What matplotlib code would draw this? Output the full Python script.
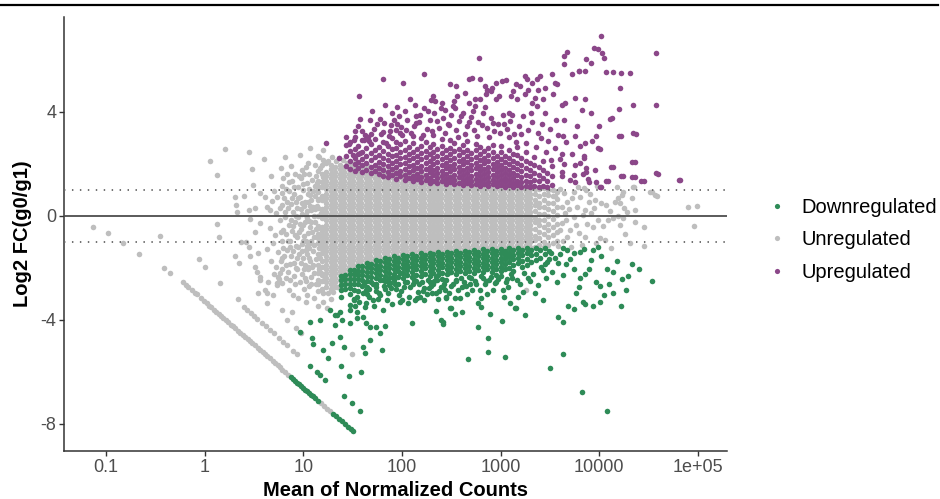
import numpy as np
import matplotlib
matplotlib.use("Agg")
import matplotlib.pyplot as plt
from matplotlib.lines import Line2D
from matplotlib.ticker import NullLocator

plt.rcParams['font.family'] = ['Liberation Sans', 'DejaVu Sans']

# ---------------- data: (log10 mean normalized count, log2 fold change) ----------------
categories = ["Downregulated", "Unregulated", "Upregulated"]
colors = {"Downregulated": "#2E8B57", "Unregulated": "#BEBEBE", "Upregulated": "#8B4789"}

x_ticks = [0.1, 1, 10, 100, 1000, 10000, 100000]
x_tick_labels = ["0.1", "1", "10", "100", "1000", "10000", "1e+05"]
y_ticks = [-8, -4, 0, 4]
y_tick_labels = ["-8", "-4", "0", "4"]

gray_sparse = [
    (-1.13, -0.42), (-0.98, -0.66), (-0.83, -1.04), (-0.66, -1.47), (-0.45, -0.77), (-0.41, -2.01),
    (-0.35, -2.18), (-0.06, -1.67), (0.0, -1.95), (0.13, -0.31), (0.15, -0.81), (0.16, -2.59),
    (-0.22, -2.56), (-0.19, -2.66), (-0.17, -2.73), (-0.13, -2.86), (-0.10, -2.96), (-0.08, -3.02),
    (-0.04, -3.16), (-0.01, -3.26), (0.02, -3.36), (0.05, -3.46), (0.07, -3.52), (0.10, -3.62),
    (0.12, -3.69), (0.15, -3.79), (0.17, -3.85), (0.19, -3.92), (0.22, -4.02), (0.24, -4.09),
    (0.27, -4.19), (0.29, -4.25), (0.31, -4.32), (0.34, -4.42), (0.36, -4.49), (0.39, -4.58),
    (0.41, -4.65), (0.44, -4.75), (0.46, -4.82), (0.48, -4.88), (0.51, -4.98), (0.54, -5.08),
    (0.56, -5.15), (0.59, -5.25), (0.61, -5.32), (0.63, -5.38), (0.66, -5.48), (0.69, -5.58),
    (0.71, -5.65), (0.74, -5.75), (0.76, -5.81), (0.79, -5.91), (0.82, -6.01), (0.85, -6.11),
    (1.18, -7.21), (1.21, -7.31), (1.24, -7.41), (1.27, -7.51),
    (0.40, -3.52), (0.43, -3.62), (0.47, -3.75), (0.50, -3.85), (0.53, -3.95), (0.58, -4.12),
    (0.62, -4.25), (0.66, -4.38), (0.70, -4.51), (0.75, -4.68), (0.80, -4.85), (0.84, -4.98),
    (0.90, -5.18), (0.94, -5.31),
    (0.06, 2.12), (0.21, 2.59), (0.13, 1.58), (0.45, 2.47), (0.48, 1.80), (0.60, 2.20), (0.49, 1.20),
    (0.31, 0.73), (0.32, 0.42), (0.40, 0.77), (0.33, 0.15), (0.45, 0.23), (0.51, 0.31), (0.37, -1.00),
    (0.42, -1.00), (0.31, -1.54), (0.35, -1.80), (0.46, -1.54), (0.51, -0.62), (0.54, -1.43),
    (0.63, -1.28), (0.51, -1.95), (0.53, -2.14), (0.56, -2.46), (0.64, -2.53), (0.34, -3.20),
    (0.54, -2.97), (0.61, -2.85), (0.63, -3.36), (0.69, -3.04), (0.73, -2.65), (0.74, -2.33),
    (0.79, -2.59), (0.78, -1.63), (0.83, -1.88), (0.76, -2.20), (0.79, -3.62), (0.84, -4.00),
    (0.89, -3.68), (0.93, -4.32), (0.98, -4.51), (0.95, -3.17), (1.03, -3.30), (1.11, -3.17),
    (1.49, -5.31),
    (0.56, 0.87), (0.61, 0.74), (0.63, 0.36), (0.66, 0.23), (0.46, -0.13), (0.56, -0.28),
    (0.45, -1.18), (0.56, -2.33), (0.63, -2.97), (0.73, -2.59),
    (0.67, 1.52), (0.70, 0.95), (0.68, 0.58), (0.72, 0.12), (0.66, -0.45), (0.71, -0.72),
    (0.69, -1.05), (0.74, -1.38), (0.67, -1.72), (0.72, -1.95), (0.77, 1.85), (0.78, 0.42),
    (0.76, -0.15), (0.79, -0.98), (0.75, -2.42), (0.78, 1.15), (0.80, -0.55), (0.80, -1.25),
    (0.73, 0.72), (0.77, -1.75), (0.70, -2.25),
    (0.82, 2.25), (0.84, 1.62), (0.83, 1.05), (0.81, 0.68), (0.85, 0.32), (0.82, -0.05),
    (0.86, -0.35), (0.83, -0.68), (0.87, -0.95), (0.84, -1.32), (0.88, -1.55), (0.85, -2.15),
    (0.87, -2.45), (0.86, -2.85), (0.89, 1.35), (0.91, 0.85), (0.90, 0.15), (0.92, -0.22),
    (0.89, -0.58), (0.93, -1.15), (0.91, -1.82), (0.94, -2.05), (0.92, -2.62), (0.93, 0.52),
    (0.95, 1.12), (0.94, -0.82), (0.96, -1.45), (0.90, -3.05), (0.88, 1.92), (0.95, -0.05),
    (0.97, 2.35), (0.99, 1.78), (0.98, 1.45), (1.00, 0.98), (0.97, 0.72), (1.01, 0.38),
    (0.99, 0.08), (1.02, -0.25), (0.98, -0.52), (1.01, -0.78), (0.99, -1.08), (1.03, -1.32),
    (1.00, -1.62), (1.02, -1.90), (0.99, -2.22), (1.03, -2.50), (1.01, -2.82), (1.05, 2.05),
    (1.06, 1.60), (1.04, 1.25), (1.07, 0.82), (1.05, 0.55), (1.08, 0.22), (1.04, -0.08),
    (1.07, -0.42), (1.05, -0.65), (1.08, -0.95), (1.06, -1.22), (1.04, -1.48), (1.07, -1.75),
    (1.05, -2.05), (1.08, -2.35), (1.06, -2.68), (1.04, -3.05), (1.07, 2.60),
    (0.86, 0.95), (0.87, -1.20), (0.88, 0.45), (0.90, -0.38), (0.91, -2.30), (0.92, 1.60),
    (0.93, -0.02), (0.94, -1.62), (0.95, 0.68), (0.96, -0.60), (0.97, -2.55), (0.98, 0.25),
    (0.99, -1.35), (1.00, 1.22), (1.00, -0.35), (1.01, -2.05), (1.02, 0.55), (1.03, -0.95),
    (1.03, 1.88), (1.04, 0.20), (1.05, -1.95), (1.06, -0.20), (1.06, 1.05), (1.07, -1.05),
    (1.08, 0.62), (1.08, -2.60), (1.09, -0.60), (1.09, 1.40), (1.10, -1.35), (1.11, 0.00),
    (1.11, -2.20), (1.12, 0.75), (1.12, -0.25), (1.13, -1.65), (1.13, 1.55), (1.14, 0.40),
    (1.15, -0.85), (1.15, -2.45), (1.16, 1.10), (1.16, -1.25), (1.10, 0.35), (1.11, -0.80),
    (1.12, 1.15), (1.10, -1.90), (1.13, -0.50), (1.14, 0.95),
    (0.76, 0.30), (0.77, -0.60), (0.78, -2.05), (0.79, 0.88), (0.80, 1.45), (0.81, -1.55),
    (0.82, 0.15), (0.83, -2.40), (0.84, 0.55), (0.85, -0.95), (0.86, 1.30), (0.87, -1.85),
    (0.88, -0.15), (0.89, 0.70), (0.90, -1.35), (0.91, 1.10), (0.92, -0.75), (0.93, -2.00),
    (0.94, 0.30), (0.95, -1.20), (0.96, 1.55), (0.97, -0.30), (0.98, -1.80), (0.99, 0.50),
    (1.00, -0.95), (1.01, 1.60), (1.02, -2.40), (1.03, 0.05), (1.04, -1.15), (1.05, 0.85),
    (1.06, -1.60), (1.07, 0.40), (1.08, -0.25), (1.09, -1.95), (1.10, 0.95), (1.11, -1.10),
    (1.12, 0.25), (1.13, -2.60), (1.14, 1.25), (1.15, -0.45), (1.16, 0.65), (1.17, -1.60),
    (1.17, 1.85), (1.18, -2.20), (1.18, 0.10), (1.19, -0.95), (1.20, 1.50), (1.21, -2.45),
    (1.16, -2.05), (1.20, 2.15),
    (1.12, 1.95), (1.16, 2.25), (1.20, 2.55), (1.15, 2.30), (1.25, 2.12), (1.29, 2.25), (1.33, 2.10),
    (1.36, 2.22), (1.40, 2.15), (1.44, 2.02), (1.48, 1.98), (1.52, 2.05), (1.57, 1.95), (1.61, 1.90),
    (1.66, 1.92), (1.71, 1.85), (1.76, 1.88), (1.81, 1.80), (1.87, 1.78), (1.93, 1.72), (1.98, 1.70),
    (2.05, 1.65), (2.12, 1.68), (2.20, 1.62), (2.30, 1.58), (2.40, 1.55), (2.50, 1.52), (2.60, 1.48),
    (2.70, 1.45), (2.80, 1.40), (2.90, 1.38), (3.00, 1.35), (3.10, 1.30), (3.20, 1.28), (3.30, 1.25),
    (1.15, -2.90), (1.20, -2.98), (1.25, -2.95), (1.30, -2.92), (1.34, -2.75), (1.38, -2.62),
    (1.43, -2.55), (1.47, -2.35), (1.52, -2.22), (1.58, -2.12), (1.63, -2.02), (1.70, -1.95),
    (1.78, -1.85), (1.85, -1.78), (1.93, -1.72), (2.00, -1.68), (2.10, -1.65), (2.20, -1.62),
    (2.35, -1.60), (2.50, -1.55), (2.65, -1.52), (2.80, -1.48), (2.95, -1.45), (3.10, -1.42),
    (3.20, -1.40), (3.26, -2.86), (1.15, -3.45), (1.20, -3.30), (1.24, -3.55), (1.28, -3.20),
    (3.62, -0.28), (3.64, 0.87), (3.65, 0.10), (3.67, 0.55), (3.67, -0.80), (3.70, -0.54),
    (3.74, 0.93), (3.74, -0.03), (3.77, 0.36), (3.79, -0.67), (3.80, 0.74), (3.84, 1.06),
    (3.86, 0.23), (3.86, -0.80), (3.87, 1.00), (3.90, 0.55), (3.92, 0.10), (3.94, -0.41),
    (3.96, 0.62), (3.97, -1.05), (3.99, -0.15), (4.01, -0.86), (4.02, 0.49), (4.06, -0.92),
    (4.07, 0.42), (4.09, -0.15), (4.14, -0.09), (4.16, 0.55), (4.18, 1.13), (4.19, 0.68),
    (4.19, 0.00), (4.21, -0.35), (4.21, 0.49), (4.23, 0.81), (4.24, -0.09), (4.24, 0.93),
    (4.25, 0.30), (4.26, -0.69), (4.31, -1.05), (4.33, 0.68), (4.34, 1.13), (4.35, 1.10),
    (4.36, 0.21), (4.36, -0.22), (4.45, -0.41), (4.45, -1.14), (4.51, 0.93), (4.53, 0.91),
    (4.56, 0.81), (4.58, 0.78), (4.90, 0.33), (4.99, 0.40), (4.96, -0.37),
    (3.58, -1.15), (3.60, -0.55), (3.62, 0.35), (3.55, 0.78), (3.60, 1.05), (3.63, -0.95),
    (3.66, -0.15), (3.69, 0.25), (3.71, -1.20), (3.72, 0.70), (3.76, -0.35), (3.78, 1.10),
    (3.82, -1.10), (3.83, 0.05), (3.88, -0.30), (3.91, 0.85), (3.95, 0.30), (3.98, 1.15),
    (4.04, -0.40), (4.11, 0.20), (4.12, -1.25), (4.28, 0.15),
]

gray_core = [
    (1.15, [-2.62, -2.20, -1.87, -1.45, -1.05, -0.68, -0.40, -0.02, 0.30, 0.62, 0.92, 1.35, 1.72]),
    (1.19, [-2.80, -2.50, -2.29, -1.95, -1.75, -1.44, -1.27, -1.10, -0.76, -0.59, -0.42, -0.08, 0.09, 0.26, 0.62, 0.77, 1.11, 1.30, 1.62, 1.96]),
    (1.23, [-2.72, -2.55, -2.38, -2.21, -2.04, -1.87, -1.70, -1.53, -1.36, -1.19, -1.02, -0.85, -0.68, -0.51, -0.34, -0.17, 0.00, 0.17, 0.34, 0.51, 0.68, 0.85, 1.02, 1.19, 1.36, 1.55, 1.70, 2.04]),
    (1.28, [-2.80, -2.63, -2.46, -2.29, -2.12, -1.95, -1.78, -1.61, -1.44, -1.27, -1.10, -0.93, -0.76, -0.59, -0.42, -0.25, -0.08, 0.09, 0.26, 0.43, 0.60, 0.77, 0.94, 1.11, 1.28, 1.45, 1.62, 1.79, 1.96]),
    (1.32, [-2.72, -2.55, -2.38, -2.21, -2.04, -1.87, -1.70, -1.53, -1.36, -1.19, -1.02, -0.85, -0.68, -0.51, -0.34, -0.17, 0.00, 0.17, 0.34, 0.51, 0.68, 0.85, 1.02, 1.19, 1.36, 1.53, 1.70, 1.87]),
    (1.37, [-2.46, -2.29, -2.12, -1.95, -1.78, -1.61, -1.44, -1.27, -1.10, -0.93, -0.76, -0.59, -0.42, -0.25, -0.08, 0.09, 0.26, 0.43, 0.60, 0.77, 0.94, 1.11, 1.28, 1.45, 1.62, 1.79, 1.96]),
    (1.41, [-2.38, -2.21, -2.04, -1.87, -1.70, -1.53, -1.36, -1.19, -1.02, -0.85, -0.68, -0.51, -0.34, -0.17, 0.00, 0.17, 0.34, 0.51, 0.68, 0.85, 1.02, 1.19, 1.36, 1.53, 1.70, 1.87]),
    (1.46, [-2.12, -1.95, -1.78, -1.61, -1.44, -1.27, -1.10, -0.93, -0.76, -0.59, -0.42, -0.25, -0.08, 0.09, 0.26, 0.43, 0.60, 0.77, 0.94, 1.11, 1.28, 1.45, 1.62, 1.79]),
    (1.50, [-2.04, -1.87, -1.70, -1.53, -1.36, -1.19, -1.02, -0.85, -0.68, -0.51, -0.34, -0.17, 0.00, 0.17, 0.34, 0.51, 0.68, 0.85, 1.02, 1.19, 1.36, 1.53, 1.70, 1.87]),
    (1.55, [-1.95, -1.78, -1.61, -1.44, -1.27, -1.10, -0.93, -0.76, -0.59, -0.42, -0.25, -0.08, 0.09, 0.26, 0.43, 0.60, 0.77, 0.94, 1.11, 1.28, 1.45, 1.62, 1.79]),
    (1.59, [-1.87, -1.70, -1.53, -1.36, -1.19, -1.02, -0.85, -0.68, -0.51, -0.34, -0.17, 0.00, 0.17, 0.34, 0.51, 0.68, 0.85, 1.02, 1.19, 1.36, 1.53, 1.70]),
    (1.64, [-1.78, -1.61, -1.44, -1.27, -1.10, -0.93, -0.76, -0.59, -0.42, -0.25, -0.08, 0.09, 0.26, 0.43, 0.60, 0.77, 0.94, 1.11, 1.28, 1.45, 1.62, 1.79]),
    (1.68, [-1.70, -1.53, -1.36, -1.19, -1.02, -0.85, -0.68, -0.51, -0.34, -0.17, 0.00, 0.17, 0.34, 0.51, 0.68, 0.85, 1.02, 1.19, 1.36, 1.53, 1.70]),
    (1.73, [-1.75, -1.61, -1.44, -1.27, -1.10, -0.93, -0.76, -0.59, -0.42, -0.25, -0.08, 0.09, 0.26, 0.43, 0.60, 0.77, 0.94, 1.11, 1.28, 1.45, 1.62]),
    (1.77, [-1.70, -1.53, -1.36, -1.19, -1.02, -0.85, -0.68, -0.51, -0.34, -0.17, 0.00, 0.17, 0.34, 0.51, 0.68, 0.85, 1.02, 1.19, 1.36, 1.53, 1.70]),
    (1.82, [-1.61, -1.44, -1.27, -1.10, -0.93, -0.76, -0.59, -0.42, -0.25, -0.08, 0.09, 0.26, 0.43, 0.60, 0.77, 0.94, 1.11, 1.28, 1.45, 1.62]),
    (1.86, [-1.53, -1.36, -1.19, -1.02, -0.85, -0.68, -0.51, -0.34, -0.17, 0.00, 0.17, 0.34, 0.51, 0.68, 0.85, 1.02, 1.19, 1.36, 1.53, 1.70]),
    (1.91, [-1.61, -1.44, -1.27, -1.10, -0.93, -0.76, -0.59, -0.42, -0.25, -0.08, 0.09, 0.26, 0.43, 0.60, 0.77, 0.94, 1.11, 1.28, 1.45, 1.62]),
    (1.95, [-1.53, -1.36, -1.19, -1.02, -0.85, -0.68, -0.51, -0.34, -0.17, 0.00, 0.17, 0.34, 0.51, 0.68, 0.85, 1.02, 1.19, 1.36, 1.53]),
    (2.00, [-1.55, -1.44, -1.27, -1.10, -0.93, -0.76, -0.59, -0.42, -0.25, -0.08, 0.09, 0.26, 0.43, 0.60, 0.77, 0.94, 1.11, 1.28, 1.45, 1.60]),
    (2.04, [-1.53, -1.36, -1.19, -1.02, -0.85, -0.68, -0.51, -0.34, -0.17, 0.00, 0.17, 0.34, 0.51, 0.68, 0.85, 1.02, 1.19, 1.36, 1.53]),
    (2.09, [-1.44, -1.27, -1.10, -0.93, -0.76, -0.59, -0.42, -0.25, -0.08, 0.09, 0.26, 0.43, 0.60, 0.77, 0.94, 1.11, 1.28, 1.45, 1.56]),
    (2.13, [-1.53, -1.36, -1.19, -1.02, -0.85, -0.68, -0.51, -0.34, -0.17, 0.00, 0.17, 0.34, 0.51, 0.68, 0.85, 1.02, 1.19, 1.36, 1.53]),
    (2.18, [-1.48, -1.32, -1.10, -0.93, -0.76, -0.59, -0.42, -0.25, -0.08, 0.09, 0.26, 0.43, 0.60, 0.77, 0.94, 1.11, 1.28, 1.45, 1.55]),
    (2.22, [-1.53, -1.36, -1.19, -1.02, -0.85, -0.68, -0.51, -0.34, -0.17, 0.00, 0.17, 0.34, 0.51, 0.68, 0.85, 1.02, 1.19, 1.36, 1.53]),
    (2.27, [-1.44, -1.27, -1.10, -0.93, -0.76, -0.59, -0.42, -0.25, -0.08, 0.09, 0.26, 0.43, 0.60, 0.77, 0.94, 1.11, 1.28, 1.45]),
    (2.31, [-1.48, -1.36, -1.19, -1.02, -0.85, -0.68, -0.51, -0.34, -0.17, 0.00, 0.17, 0.34, 0.51, 0.68, 0.85, 1.02, 1.19, 1.36]),
    (2.36, [-1.44, -1.27, -1.10, -0.93, -0.76, -0.59, -0.42, -0.25, -0.08, 0.09, 0.26, 0.43, 0.60, 0.77, 0.94, 1.11, 1.28, 1.45]),
    (2.40, [-1.46, -1.36, -1.19, -1.02, -0.85, -0.68, -0.51, -0.34, -0.17, 0.00, 0.17, 0.34, 0.51, 0.68, 0.85, 1.02, 1.19, 1.36]),
    (2.45, [-1.44, -1.27, -1.10, -0.93, -0.76, -0.59, -0.42, -0.25, -0.08, 0.09, 0.26, 0.43, 0.60, 0.77, 0.94, 1.11, 1.28, 1.42]),
    (2.49, [-1.36, -1.19, -1.02, -0.85, -0.68, -0.51, -0.34, -0.17, 0.00, 0.17, 0.34, 0.51, 0.68, 0.85, 1.02, 1.19, 1.36]),
    (2.54, [-1.44, -1.27, -1.10, -0.93, -0.76, -0.59, -0.42, -0.25, -0.08, 0.09, 0.26, 0.43, 0.60, 0.77, 0.94, 1.11, 1.28, 1.40]),
    (2.58, [-1.36, -1.19, -1.02, -0.85, -0.68, -0.51, -0.34, -0.17, 0.00, 0.17, 0.34, 0.51, 0.68, 0.85, 1.02, 1.19, 1.36]),
    (2.63, [-1.40, -1.27, -1.10, -0.93, -0.76, -0.59, -0.42, -0.25, -0.08, 0.09, 0.26, 0.43, 0.60, 0.77, 0.94, 1.11, 1.28]),
    (2.67, [-1.36, -1.19, -1.02, -0.85, -0.68, -0.51, -0.34, -0.17, 0.00, 0.17, 0.34, 0.51, 0.68, 0.85, 1.02, 1.19, 1.36]),
    (2.72, [-1.38, -1.27, -1.10, -0.93, -0.76, -0.59, -0.42, -0.25, -0.08, 0.09, 0.26, 0.43, 0.60, 0.77, 0.94, 1.11, 1.28]),
    (2.76, [-1.36, -1.19, -1.02, -0.85, -0.68, -0.51, -0.34, -0.17, 0.00, 0.17, 0.34, 0.51, 0.68, 0.85, 1.02, 1.19, 1.32]),
    (2.81, [-1.27, -1.10, -0.93, -0.76, -0.59, -0.42, -0.25, -0.08, 0.09, 0.26, 0.43, 0.60, 0.77, 0.94, 1.11, 1.28]),
    (2.85, [-1.36, -1.19, -1.02, -0.85, -0.68, -0.51, -0.34, -0.17, 0.00, 0.17, 0.34, 0.51, 0.68, 0.85, 1.02, 1.19]),
    (2.90, [-1.27, -1.10, -0.93, -0.76, -0.59, -0.42, -0.25, -0.08, 0.09, 0.26, 0.43, 0.60, 0.77, 0.94, 1.11, 1.24]),
    (2.94, [-1.36, -1.19, -1.02, -0.85, -0.68, -0.51, -0.34, -0.17, 0.00, 0.17, 0.34, 0.51, 0.68, 0.85, 1.02, 1.19]),
    (2.99, [-1.27, -1.10, -0.93, -0.76, -0.59, -0.42, -0.25, -0.08, 0.09, 0.26, 0.43, 0.60, 0.77, 0.94, 1.11, 1.22]),
    (3.03, [-1.30, -1.19, -1.02, -0.85, -0.68, -0.51, -0.34, -0.17, 0.00, 0.17, 0.34, 0.51, 0.68, 0.85, 1.02, 1.19]),
    (3.08, [-1.27, -1.10, -0.93, -0.76, -0.59, -0.42, -0.25, -0.08, 0.09, 0.26, 0.43, 0.60, 0.77, 0.94, 1.11, 1.20]),
    (3.12, [-1.30, -1.19, -1.02, -0.85, -0.68, -0.51, -0.34, -0.17, 0.00, 0.17, 0.34, 0.51, 0.68, 0.85, 1.02, 1.19]),
    (3.17, [-1.27, -1.10, -0.93, -0.76, -0.59, -0.42, -0.25, -0.08, 0.09, 0.26, 0.43, 0.60, 0.77, 0.94, 1.11]),
    (3.21, [-1.19, -1.02, -0.85, -0.68, -0.51, -0.34, -0.17, 0.00, 0.17, 0.34, 0.51, 0.68, 0.85, 1.02, 1.19]),
    (3.26, [-1.27, -1.10, -0.93, -0.76, -0.59, -0.42, -0.25, -0.08, 0.09, 0.26, 0.43, 0.60, 0.77, 0.94, 1.11]),
    (3.30, [-1.19, -1.02, -0.85, -0.68, -0.51, -0.34, -0.17, 0.00, 0.17, 0.34, 0.51, 0.68, 0.85, 1.02, 1.15]),
    (3.35, [-1.20, -0.93, -0.76, -0.50, -0.25, -0.08, 0.18, 0.43, 0.60, 0.86, 1.05]),
    (3.39, [-1.12, -0.85, -0.60, -0.34, -0.17, 0.08, 0.34, 0.51, 0.77, 1.02]),
    (3.44, [-1.18, -1.00, -0.68, -0.42, -0.16, 0.09, 0.35, 0.60, 0.85, 1.08]),
    (3.48, [-1.10, -0.80, -0.55, -0.30, 0.00, 0.25, 0.51, 0.80, 1.00]),
    (3.53, [-1.05, -0.72, -0.42, -0.12, 0.20, 0.48, 0.75, 0.98]),
    (3.57, [-0.95, -0.62, -0.30, 0.05, 0.35, 0.65, 0.92]),
]

green_sparse = [
    (0.88, -6.21), (0.90, -6.28), (0.92, -6.34), (0.94, -6.41), (0.96, -6.48), (0.98, -6.54),
    (1.00, -6.61), (1.02, -6.68), (1.04, -6.74), (1.06, -6.81), (1.08, -6.88), (1.10, -6.94),
    (1.12, -7.01), (1.15, -7.11), (1.30, -7.61), (1.33, -7.71), (1.36, -7.81), (1.39, -7.90),
    (1.42, -8.00), (1.45, -8.10), (1.48, -8.20), (1.50, -8.27),
    (1.07, -5.77), (1.14, -5.99), (1.17, -6.12), (1.22, -6.31), (1.41, -6.91), (1.49, -7.20),
    (1.58, -7.49), (1.38, -5.77), (1.46, -6.15), (1.59, -5.99), (1.25, -5.46), (1.20, -5.15),
    (1.29, -4.87), (1.09, -4.70), (1.10, -4.92), (1.37, -4.64), (1.41, -5.03), (1.61, -5.03),
    (1.63, -5.26), (1.80, -5.15), (1.68, -4.77), (1.78, -4.51), (1.83, -4.23), (2.10, -4.13),
    (2.35, -3.64), (2.42, -4.06), (0.97, -4.45), (1.07, -4.06), (1.17, -4.00),
    (1.27, -3.62), (1.34, -3.81), (1.32, -4.19), (1.39, -4.00), (1.47, -4.13), (1.51, -3.23),
    (1.47, -3.62), (1.54, -3.68), (1.54, -3.94), (1.61, -3.87), (1.64, -4.13), (1.68, -4.26),
    (1.74, -4.28), (1.64, -3.36), (1.71, -3.23), (1.78, -3.04), (1.85, -3.23), (1.88, -2.59),
    (1.98, -3.30), (2.06, -3.36), (2.15, -3.17), (2.22, -3.23), (2.27, -2.78), (2.35, -2.97),
    (2.35, -2.33), (2.42, -2.72), (2.45, -3.17), (2.47, -2.20), (1.98, -2.20), (2.05, -1.95),
    (1.91, -2.33), (1.81, -2.46), (1.74, -2.72), (1.64, -2.85), (1.61, -2.97), (1.54, -3.10),
    (1.47, -3.42), (1.37, -3.68), (1.32, -3.81),
    (4.53, -2.50), (4.33, -1.86), (4.08, -7.50), (3.82, -6.78), (3.50, -5.83), (3.63, -5.31),
    (3.04, -5.44), (2.87, -5.24), (2.87, -4.71), (2.67, -5.51), (2.77, -4.26), (2.40, -4.00),
    (2.42, -4.15), (2.50, -3.55), (2.54, -3.78), (2.61, -3.71), (2.80, -3.51), (2.89, -3.77),
    (3.01, -4.04), (3.25, -3.81), (3.15, -3.55), (3.58, -3.90), (3.63, -4.09), (3.43, -3.23),
    (3.68, -3.45), (3.74, -3.58), (3.94, -3.46), (4.01, -3.32), (4.05, -3.06), (4.14, -2.95),
    (4.22, -3.45), (4.23, -2.42), (4.29, -2.31), (4.14, -2.17), (4.08, -2.04), (4.01, -2.68),
    (3.97, -2.53), (3.86, -2.23), (3.80, -2.37), (3.79, -2.72), (3.83, -3.32), (3.86, -3.40),
    (3.74, -2.04), (3.66, -1.86), (3.63, -2.27), (3.58, -1.82), (3.55, -1.63), (3.51, -1.44),
    (3.47, -1.79), (3.43, -2.08), (3.38, -2.65), (3.33, -2.24), (3.23, -2.91), (3.18, -3.10),
    (3.16, -3.53), (3.10, -3.36), (3.07, -2.72), (3.02, -2.85), (3.03, -3.10), (2.94, -2.59),
    (2.86, -3.00), (2.79, -2.85), (2.80, -3.14), (2.71, -2.85), (2.69, -2.62), (2.61, -2.72),
    (2.59, -3.17), (2.54, -3.17), (2.49, -3.53), (2.44, -2.85), (2.45, -3.10), (2.37, -3.19),
    (2.30, -2.95), (2.22, -2.78), (2.18, -3.13), (2.13, -3.23), (2.00, -3.23), (3.80, -1.37),
    (3.85, -1.28), (3.92, -1.69), (3.99, -1.18), (3.94, -1.31), (3.67, -1.31), (3.74, -1.44),
    (3.63, -1.24),
    (1.52, -3.48), (1.57, -3.30), (1.63, -3.52), (1.67, -3.12), (1.72, -3.45), (1.76, -3.18),
    (1.81, -3.62), (1.86, -2.98), (1.90, -3.40), (1.94, -2.82), (1.97, -3.05), (2.02, -2.72),
    (2.07, -3.10), (2.11, -2.60), (2.16, -2.92), (2.20, -2.55), (2.25, -3.02), (2.29, -2.68),
    (2.33, -2.50), (2.38, -2.88), (2.43, -2.60), (2.48, -2.98), (2.52, -2.62), (2.57, -2.85),
    (2.63, -2.55), (2.66, -3.02), (2.74, -2.52), (2.77, -3.35), (2.84, -2.62), (2.88, -2.45),
    (2.92, -2.85), (2.97, -2.42), (3.05, -2.55), (3.12, -2.40), (3.20, -2.62), (3.28, -2.38),
    (3.35, -2.95), (3.41, -1.95), (3.46, -2.40), (3.52, -2.15), (3.57, -2.55), (3.60, -1.45),
    (3.70, -1.65), (3.76, -2.95), (3.90, -2.05), (4.02, -1.55), (4.10, -2.62), (4.18, -1.75),
    (4.27, -2.85), (4.40, -2.05),
    (1.62, -2.58), (1.67, -2.80), (1.71, -2.62), (1.77, -2.95), (1.82, -2.70), (1.85, -2.52),
    (1.89, -2.78), (1.93, -2.62), (1.99, -2.88), (2.03, -2.55), (2.08, -2.75), (2.12, -2.45),
    (2.17, -2.62), (2.21, -2.90), (2.26, -2.45), (2.31, -2.62), (2.36, -2.48), (2.40, -2.72),
    (2.45, -2.45), (2.50, -2.70), (2.55, -2.52), (2.60, -2.38), (2.65, -2.68), (2.70, -2.40),
    (2.75, -2.62), (2.80, -2.32), (2.85, -2.50), (2.90, -2.35), (2.95, -2.55), (3.00, -2.30),
    (3.06, -2.42), (3.11, -2.25), (3.17, -2.45), (3.24, -2.20), (3.30, -2.50),
]

green_band = [
    (1.38, [-2.30, -2.47, -2.66, -2.85, -3.10]),
    (1.42, [-2.27, -2.44, -2.62, -2.80]),
    (1.47, [-2.08, -2.25, -2.42, -2.60, -2.79, -3.02]),
    (1.51, [-2.08, -2.25, -2.42, -2.61, -2.85, -3.18]),
    (1.56, [-1.93, -2.10, -2.27, -2.44, -2.63, -2.88]),
    (1.60, [-1.94, -2.11, -2.28, -2.46, -2.70]),
    (1.65, [-1.80, -1.97, -2.14, -2.31, -2.50, -2.72, -3.00]),
    (1.69, [-1.83, -2.00, -2.17, -2.35, -2.56]),
    (1.74, [-1.70, -1.87, -2.04, -2.21, -2.40, -2.62, -2.90]),
    (1.78, [-1.74, -1.91, -2.08, -2.26, -2.47]),
    (1.83, [-1.62, -1.79, -1.96, -2.13, -2.31, -2.52, -2.80]),
    (1.87, [-1.66, -1.83, -2.00, -2.18, -2.38, -2.64]),
    (1.92, [-1.55, -1.72, -1.89, -2.06, -2.24, -2.45]),
    (1.96, [-1.61, -1.78, -1.95, -2.13, -2.33, -2.60]),
    (2.01, [-1.50, -1.67, -1.84, -2.01, -2.19, -2.40]),
    (2.05, [-1.56, -1.73, -1.90, -2.08, -2.28, -2.55]),
    (2.10, [-1.46, -1.63, -1.80, -1.97, -2.15, -2.36]),
    (2.14, [-1.53, -1.70, -1.87, -2.05, -2.26, -2.50]),
    (2.19, [-1.43, -1.60, -1.77, -1.94, -2.12, -2.32]),
    (2.23, [-1.50, -1.67, -1.84, -2.02, -2.22]),
    (2.28, [-1.41, -1.58, -1.75, -1.92, -2.10, -2.30, -2.55]),
    (2.32, [-1.48, -1.65, -1.82, -2.00, -2.20]),
    (2.37, [-1.39, -1.56, -1.73, -1.90, -2.08, -2.28]),
    (2.41, [-1.46, -1.63, -1.80, -1.98, -2.18, -2.42]),
    (2.46, [-1.37, -1.54, -1.71, -1.88, -2.06, -2.25]),
    (2.50, [-1.44, -1.61, -1.78, -1.96, -2.15]),
    (2.55, [-1.35, -1.52, -1.69, -1.86, -2.04, -2.24, -2.48]),
    (2.59, [-1.42, -1.59, -1.76, -1.94, -2.13]),
    (2.64, [-1.33, -1.50, -1.67, -1.84, -2.02, -2.20]),
    (2.68, [-1.40, -1.57, -1.74, -1.92, -2.12, -2.36]),
    (2.73, [-1.31, -1.48, -1.65, -1.82, -2.00, -2.18]),
    (2.77, [-1.38, -1.55, -1.72, -1.90, -2.08]),
    (2.82, [-1.29, -1.46, -1.63, -1.80, -1.98, -2.17, -2.40]),
    (2.86, [-1.36, -1.53, -1.70, -1.88, -2.06]),
    (2.91, [-1.27, -1.44, -1.61, -1.78, -1.96, -2.14]),
    (2.95, [-1.34, -1.51, -1.68, -1.86, -2.05, -2.28]),
    (3.00, [-1.26, -1.43, -1.60, -1.77, -1.95, -2.12]),
    (3.04, [-1.33, -1.50, -1.67, -1.85, -2.03]),
    (3.09, [-1.25, -1.42, -1.59, -1.78, -2.00]),
    (3.13, [-1.32, -1.49, -1.67, -1.88, -2.12]),
    (3.18, [-1.24, -1.41, -1.60, -1.82]),
    (3.22, [-1.31, -1.50, -1.72, -1.98]),
    (3.27, [-1.23, -1.42, -1.64, -1.90]),
    (3.31, [-1.30, -1.52, -1.78]),
    (3.36, [-1.22, -1.45, -1.70]),
    (3.40, [-1.32, -1.60]),
    (3.45, [-1.22, -1.48, -1.85]),
    (3.49, [-1.35, -1.65]),
]

purple_sparse = [
    (2.78, 6.06), (2.22, 5.47), (1.81, 5.28), (2.01, 5.12), (1.57, 4.61), (2.49, 5.08), (2.55, 4.99),
    (2.68, 5.25), (2.71, 5.29), (2.79, 5.28), (2.86, 4.86), (2.91, 4.93), (2.95, 5.12), (3.01, 5.19),
    (3.05, 5.22), (2.84, 4.99), (2.90, 4.80), (3.13, 4.80), (3.16, 5.06), (3.25, 5.38), (3.27, 5.25),
    (3.32, 5.12), (3.37, 5.25), (3.40, 5.40), (3.52, 5.44), (3.55, 5.12), (3.57, 5.06), (3.64, 5.86),
    (3.64, 6.15), (3.67, 6.32), (3.72, 5.44), (3.79, 5.57), (3.86, 5.57), (3.87, 6.05), (3.92, 5.89),
    (3.95, 6.47), (3.99, 6.43), (4.02, 6.92), (4.03, 6.25), (4.05, 6.08), (4.07, 5.53), (4.14, 5.53),
    (4.22, 5.51), (4.31, 5.51), (4.21, 4.93), (4.20, 4.13), (4.34, 4.26), (3.75, 4.54), (3.62, 4.28),
    (3.64, 3.70), (3.82, 4.09), (3.92, 3.94), (3.86, 4.48), (3.77, 3.45), (3.65, 4.35), (3.53, 4.67),
    (3.45, 4.93), (3.38, 4.86), (3.35, 4.54), (3.43, 4.48), (3.37, 4.22), (3.45, 3.96), (3.32, 4.35),
    (3.25, 4.67), (3.28, 4.86), (3.20, 4.99), (3.17, 4.48), (3.11, 4.61), (3.08, 3.96), (2.98, 4.61),
    (2.95, 4.48), (2.85, 4.67), (2.79, 4.48), (2.74, 4.48), (2.74, 4.22), (2.64, 4.74), (2.68, 4.35),
    (2.56, 4.61), (2.53, 4.41), (2.54, 4.16), (2.44, 4.09), (2.41, 4.35), (2.31, 4.61), (2.29, 4.45),
    (2.34, 4.41), (2.22, 4.16), (2.14, 3.83), (2.08, 4.50), (1.95, 4.19), (1.97, 3.83), (1.78, 3.73),
    (1.82, 3.58), (1.89, 3.51), (2.14, 3.58), (2.04, 3.32), (2.00, 3.12), (1.94, 3.32), (1.87, 3.06),
    (1.84, 2.80), (1.63, 3.12), (1.62, 2.93), (1.51, 2.93), (1.46, 2.78), (1.23, 2.80), (1.36, 2.23),
    (1.50, 2.36), (1.58, 2.42), (1.67, 2.87),
    (4.57, 6.25), (4.57, 4.25), (4.20, 3.09), (4.34, 3.20), (4.33, 2.08), (4.33, 1.50), (4.22, 1.54),
    (4.12, 1.89), (4.01, 1.12), (3.99, 2.63), (4.00, 3.44), (4.11, 3.71), (4.07, 1.35), (4.42, 1.35),
    (4.57, 1.66), (4.81, 1.39), (3.79, 5.56), (4.13, 3.78),
    (2.05, 3.70), (2.12, 3.45), (2.18, 3.90), (2.25, 3.35), (2.28, 3.70), (2.33, 3.95), (2.38, 3.40),
    (2.42, 3.75), (2.47, 3.55), (2.50, 3.90), (2.55, 3.30), (2.58, 3.65), (2.62, 3.95), (2.66, 3.45),
    (2.70, 3.80), (2.73, 3.30), (2.77, 3.60), (2.82, 3.95), (2.86, 3.40), (2.90, 3.75), (2.93, 3.25),
    (2.97, 3.55), (3.02, 3.90), (3.06, 3.35), (3.10, 3.65), (3.14, 3.15), (3.19, 3.45), (3.23, 3.85),
    (3.28, 3.30), (3.32, 3.60), (3.38, 3.20), (3.42, 3.55), (3.48, 2.90), (3.50, 3.35), (3.55, 2.60),
    (3.58, 3.10), (3.60, 2.20), (3.62, 1.70), (3.66, 2.85), (3.70, 1.40), (3.72, 2.40), (3.75, 1.95),
    (3.80, 2.70), (3.83, 1.60), (3.85, 2.30), (3.90, 1.30), (3.93, 2.90), (3.96, 1.75), (1.95, 3.55),
    (1.90, 3.95), (1.72, 3.35), (1.68, 3.70), (1.55, 3.45),
    (3.63, 3.08), (3.75, 3.08), (3.97, 3.08), (4.22, 3.08), (4.37, 3.15), (3.86, 2.82), (4.01, 2.58),
    (3.62, 2.38), (3.64, 1.99), (3.84, 2.22), (3.80, 2.05), (3.87, 1.83), (3.87, 1.70), (3.74, 1.58),
    (3.75, 1.29), (3.62, 1.54), (3.89, 1.41), (3.97, 1.32), (4.02, 1.13), (4.09, 1.36), (4.14, 1.87),
    (4.24, 1.55), (4.36, 2.09), (4.36, 1.49), (4.45, 1.36), (4.59, 1.62), (4.82, 1.38),
    (1.52, 3.25), (1.58, 3.72), (1.66, 3.05), (1.70, 4.05), (1.75, 3.55), (1.79, 3.15), (1.83, 4.25),
    (1.88, 3.28), (1.92, 3.70), (1.99, 3.42), (2.03, 4.02), (2.09, 3.20), (2.13, 4.25), (2.17, 3.62),
    (2.21, 3.10), (2.26, 4.05), (2.30, 3.25), (2.36, 3.65), (2.40, 4.15), (2.44, 3.18), (2.48, 3.48),
    (2.52, 4.22), (2.57, 3.05), (2.60, 3.85), (2.64, 3.15), (2.68, 3.62), (2.72, 4.05), (2.76, 3.08),
    (2.81, 3.50), (2.84, 4.20), (2.88, 3.02), (2.92, 3.58), (2.99, 3.20), (3.03, 3.52), (3.08, 3.05),
    (3.12, 3.88), (3.16, 2.85), (3.21, 3.15), (3.26, 2.80), (3.31, 3.95), (3.36, 2.65), (3.41, 3.00),
    (3.46, 2.45), (3.51, 2.15), (3.56, 3.70),
]

purple_band = [
    (1.43, [1.92, 2.30, 2.71, 3.02]),
    (1.47, [1.80, 2.12, 2.48, 2.86]),
    (1.52, [1.74, 1.99, 2.24, 2.58, 3.05]),
    (1.56, [1.83, 2.09, 2.38, 2.70]),
    (1.60, [1.70, 1.95, 2.20, 2.47, 2.92, 3.28]),
    (1.64, [1.77, 2.04, 2.31, 2.62]),
    (1.69, [1.66, 1.88, 2.15, 2.41, 2.78, 3.14]),
    (1.73, [1.72, 1.97, 2.26, 2.53, 2.95]),
    (1.77, [1.60, 1.84, 2.08, 2.35, 2.64]),
    (1.81, [1.54, 1.76, 2.01, 2.22, 2.49, 2.85, 3.22]),
    (1.86, [1.49, 1.68, 1.93, 2.16, 2.40, 2.70]),
    (1.90, [1.57, 1.80, 2.05, 2.29, 2.57, 2.98]),
    (1.94, [1.43, 1.64, 1.87, 2.10, 2.34, 2.61, 2.84]),
    (1.98, [1.52, 1.74, 1.98, 2.21, 2.46, 2.76, 3.18]),
    (2.03, [1.38, 1.58, 1.81, 2.03, 2.27, 2.52, 2.90]),
    (2.07, [1.46, 1.69, 1.91, 2.14, 2.38, 2.66]),
    (2.11, [1.34, 1.54, 1.76, 1.97, 2.22, 2.47, 2.79, 3.08]),
    (2.15, [1.42, 1.63, 1.85, 2.08, 2.31, 2.58]),
    (2.19, [1.31, 1.50, 1.72, 1.93, 2.17, 2.42, 2.70, 2.98]),
    (2.24, [1.38, 1.59, 1.81, 2.03, 2.26, 2.51, 2.86]),
    (2.28, [1.28, 1.47, 1.68, 1.89, 2.12, 2.37, 2.64]),
    (2.32, [1.35, 1.56, 1.77, 1.99, 2.22, 2.46, 2.76, 3.10]),
    (2.36, [1.26, 1.44, 1.65, 1.86, 2.08, 2.31, 2.57]),
    (2.41, [1.33, 1.53, 1.74, 1.95, 2.18, 2.42, 2.70, 2.96]),
    (2.45, [1.23, 1.41, 1.62, 1.83, 2.05, 2.27, 2.52]),
    (2.49, [1.30, 1.50, 1.71, 1.92, 2.14, 2.38, 2.63, 2.92]),
    (2.53, [1.21, 1.39, 1.59, 1.80, 2.01, 2.23, 2.48, 2.80]),
    (2.58, [1.28, 1.48, 1.68, 1.89, 2.11, 2.34, 2.58]),
    (2.62, [1.19, 1.37, 1.57, 1.77, 1.98, 2.20, 2.45, 2.74]),
    (2.66, [1.26, 1.46, 1.66, 1.86, 2.08, 2.30, 2.55, 2.88]),
    (2.70, [1.18, 1.35, 1.55, 1.75, 1.95, 2.17, 2.41]),
    (2.75, [1.24, 1.43, 1.63, 1.84, 2.05, 2.27, 2.52, 2.78]),
    (2.79, [1.16, 1.33, 1.53, 1.72, 1.93, 2.14, 2.38, 2.66]),
    (2.83, [1.22, 1.41, 1.61, 1.81, 2.02, 2.24, 2.48]),
    (2.87, [1.15, 1.31, 1.50, 1.70, 1.90, 2.11, 2.35, 2.62]),
    (2.92, [1.21, 1.39, 1.59, 1.79, 2.00, 2.21, 2.46, 2.72]),
    (2.96, [1.14, 1.30, 1.48, 1.68, 1.88, 2.09, 2.32]),
    (3.00, [1.20, 1.38, 1.57, 1.77, 1.97, 2.19, 2.44, 2.70]),
    (3.04, [1.13, 1.29, 1.47, 1.66, 1.86, 2.07, 2.30]),
    (3.09, [1.19, 1.37, 1.56, 1.76, 1.99, 2.24, 2.55]),
    (3.13, [1.12, 1.28, 1.46, 1.66, 1.89, 2.12, 2.40]),
    (3.17, [1.18, 1.36, 1.57, 1.80, 2.05, 2.33, 2.66]),
    (3.21, [1.12, 1.29, 1.49, 1.71, 1.95, 2.22]),
    (3.26, [1.17, 1.36, 1.58, 1.84, 2.10, 2.45]),
    (3.30, [1.11, 1.30, 1.52, 1.76, 2.02]),
    (3.34, [1.16, 1.40, 1.66, 1.95, 2.28]),
    (3.39, [1.11, 1.33, 1.58, 1.88]),
    (3.43, [1.15, 1.45, 1.78, 2.12]),
    (3.47, [1.10, 1.36, 1.65]),
    (3.52, [1.18, 1.52, 1.92]),
]


def collect(sparse, columns):
    log_mean = [p[0] for p in sparse]
    lfc = [p[1] for p in sparse]
    for col_l, values in columns:
        for v in values:
            log_mean.append(col_l)
            lfc.append(v)
    return np.power(10.0, np.array(log_mean)), np.array(lfc)


series = {
    "Unregulated": collect(gray_sparse, gray_core),
    "Downregulated": collect(green_sparse, green_band),
    "Upregulated": collect(purple_sparse, purple_band),
}

# ---------------- figure ----------------
W, H = 940, 499
fig = plt.figure(figsize=(W / 100, H / 100), dpi=100)
ax = fig.add_axes([64 / W, 1 - 451 / H, (727 - 64) / W, (451 - 17) / H])

MS = 16
for name, z in [("Unregulated", 2), ("Downregulated", 3), ("Upregulated", 4)]:
    xs, ys = series[name]
    ax.scatter(xs, ys, s=MS, c=colors[name], linewidths=0, zorder=z)

ax.axhline(0, color="#4D4D4D", lw=1.3, zorder=6)
for yv in (1, -1):
    ax.axhline(yv, color="#666666", lw=1.3, linestyle=(0, (0.8, 3.6)), zorder=6)

ax.set_xscale("log")
ax.set_xlim(10 ** -1.424, 10 ** 5.294)
ax.set_ylim(-9.04, 7.65)
ax.set_xticks(x_ticks)
ax.set_xticklabels(x_tick_labels)
ax.xaxis.set_minor_locator(NullLocator())
ax.set_yticks(y_ticks)
ax.set_yticklabels(y_tick_labels)

for s in ("top", "right"):
    ax.spines[s].set_visible(False)
for s in ("left", "bottom"):
    ax.spines[s].set_color("#333333")
    ax.spines[s].set_linewidth(1.1)

ax.tick_params(axis="both", which="major", length=3.5, width=1.0, color="#333333",
               labelcolor="#4D4D4D", labelsize=13, pad=2)

ax.set_xlabel("Mean of Normalized Counts", fontsize=14.5, fontweight="bold", color="black")
ax.xaxis.set_label_coords(0.5, -(481 - 451) / 434)
ax.set_ylabel("Log2 FC(g0/g1)", fontsize=14.5, fontweight="bold", color="black")
ax.yaxis.set_label_coords((32 - 64) / 663, 0.5)

handles = [Line2D([], [], marker="o", linestyle="", markersize=np.sqrt(14),
                  markerfacecolor=colors[c], markeredgewidth=0) for c in categories]
fig.legend(handles, categories, loc="center left", bbox_to_anchor=(767 / W, 1 - 240 / H),
           frameon=False, fontsize=14.5, handlelength=1.0, handletextpad=0.7,
           labelspacing=0.65, borderpad=0, borderaxespad=0)

fig.add_artist(Line2D([0, 938 / W], [1 - 5 / H, 1 - 5 / H], transform=fig.transFigure,
                      color="black", linewidth=1.6))

fig.savefig("out.png", dpi=100, facecolor="white")
